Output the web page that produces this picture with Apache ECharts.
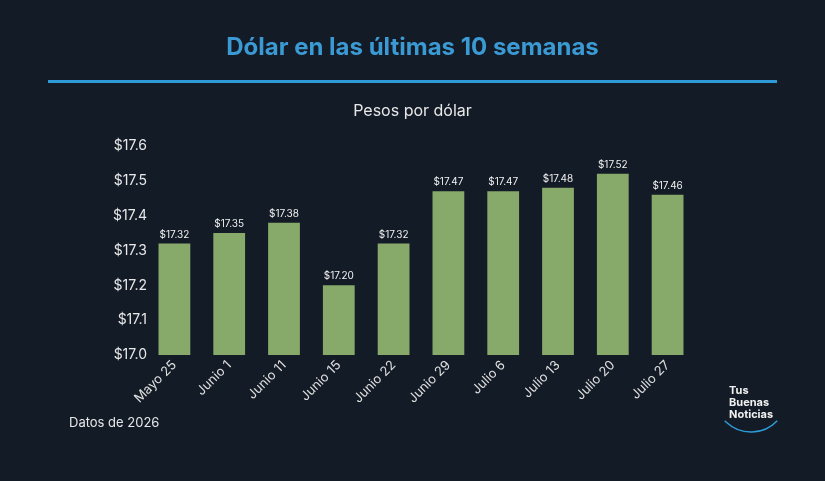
<!DOCTYPE html>
<html>
<head>
<meta charset="utf-8">
<script src="https://cdn.jsdelivr.net/npm/echarts@6/dist/echarts.min.js"></script>
<style>
  html, body { margin: 0; padding: 0; background: #131b26; }
  #chart { width: 825px; height: 481px; }
</style>
</head>
<body>
<div id="chart"></div>
<script>
  // semanas
  const categories = ['Mayo 25', 'Junio 1', 'Junio 11', 'Junio 15', 'Junio 22', 'Junio 29', 'Julio 6', 'Julio 13', 'Julio 20', 'Julio 27'];
  // pesos por dólar
  const values = [17.32, 17.35, 17.38, 17.20, 17.32, 17.47, 17.47, 17.48, 17.52, 17.46];
  const yMin = 17.0;
  const yMax = 17.6;
  const yStep = 0.1;

  const myChart = echarts.init(document.getElementById('chart'));
  const option = {
    backgroundColor: '#131b26',
    textStyle: { fontFamily: 'Inter, sans-serif' },
    title: [{
      text: 'Dólar en las últimas 10 semanas',
      left: 'center',
      top: 31,
      textStyle: { color: '#3b9ad4', fontSize: 24, fontWeight: 'bold', fontFamily: 'Inter' }
    }, {
      text: 'Pesos por dólar',
      left: 'center',
      top: 98,
      textStyle: { color: '#e8e8e8', fontSize: 16, fontWeight: 'normal', fontFamily: 'Inter' }
    }],
    graphic: [
      { type: 'rect', shape: { x: 48, y: 80, width: 729, height: 3 }, style: { fill: '#2e9bd6' } },
      { type: 'text', left: 69, top: 417, style: { text: 'Datos de 2026', fill: '#e8e8e8', font: '13px Inter' } },
      { type: 'text', left: 729, top: 385, style: { text: 'Tus\nBuenas\nNoticias', fill: '#f0f0f0', font: 'bold 11px Inter', lineHeight: 12 } },
      { type: 'arc', shape: { cx: 751, cy: 396, r: 36, startAngle: Math.PI * 0.24, endAngle: Math.PI * 0.76 },
        style: { stroke: '#2e9bd6', lineWidth: 1.5, fill: null } }
    ],
    grid: { left: 147, right: 130, top: 146, bottom: 126 },
    xAxis: {
      type: 'category',
      data: categories,
      axisLine: { show: false },
      axisTick: { show: false },
      axisLabel: { color: '#e0e0e0', fontSize: 13, rotate: 45, margin: 8, interval: 0 }
    },
    yAxis: {
      type: 'value',
      min: yMin,
      max: yMax,
      interval: yStep,
      splitLine: { show: false },
      axisLine: { show: false },
      axisTick: { show: false },
      axisLabel: {
        color: '#e8e8e8', fontSize: 14, margin: 0,
        formatter: v => '$' + v.toFixed(1)
      }
    },
    series: [{
      type: 'bar',
      data: values,
      barWidth: '58%',
      itemStyle: { color: '#87a96a' },
      label: {
        show: true,
        position: 'top',
        distance: 4,
        color: '#f0f0f0',
        fontSize: 10,
        formatter: p => '$' + p.value.toFixed(2)
      }
    }]
  };
  myChart.setOption(option);
</script>
</body>
</html>
